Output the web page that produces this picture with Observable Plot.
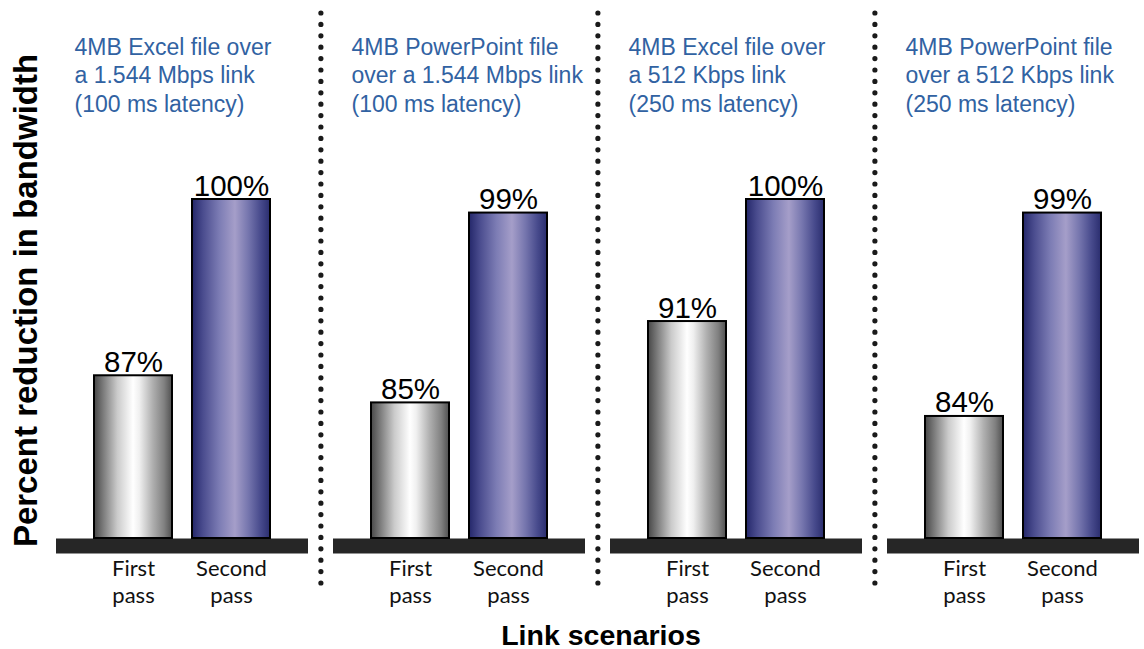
<!DOCTYPE html>
<html>
<head>
<meta charset="utf-8">
<script src="https://cdn.jsdelivr.net/npm/d3@7"></script>
<script src="https://cdn.jsdelivr.net/npm/@observablehq/plot@0.6"></script>
<style>
  html, body { margin: 0; padding: 0; background: #fff; }
  #chart { width: 1144px; }
  .caption {
    font: bold 28.5px "Liberation Sans", Arial, sans-serif;
    text-align: center;
    padding-left: 58px;
    margin-top: 10px;
    line-height: 26px;
    height: 26px;
    color: #000;
  }
</style>
</head>
<body>
<div id="chart"></div>
<script>
// Link scenarios (one panel each) and the two transfer passes
const scenarios = [
  "4MB Excel file over\na 1.544 Mbps link\n(100 ms latency)",
  "4MB PowerPoint file\nover a 1.544 Mbps link\n(100 ms latency)",
  "4MB Excel file over\na 512 Kbps link\n(250 ms latency)",
  "4MB PowerPoint file\nover a 512 Kbps link\n(250 ms latency)"
];
const passes = ["First pass", "Second pass"];

// Percent reduction in bandwidth per scenario
const firstPass = [87, 85, 91, 84];
const secondPass = [100, 99, 100, 99];

const yLabel = "Percent reduction in bandwidth";
const xLabel = "Link scenarios";
const yFloor = 75; // value axis starts here (bars rise from the base slab)

const rows = scenarios.flatMap((scenario, i) => [
  {scenario, pass: passes[0], value: firstPass[i]},
  {scenario, pass: passes[1], value: secondPass[i]}
]);

const textFont = '"Liberation Sans", Arial, sans-serif';
const isFirstOfPanel = d => d.pass === passes[0];

const svg = Plot.plot({
  width: 1144,
  height: 612,
  marginLeft: 55,
  marginRight: 5,
  marginTop: 199,
  marginBottom: 74,
  facet: {data: rows, x: "scenario"},
  fx: {domain: scenarios, axis: null, paddingInner: 0.0913, paddingOuter: 0},
  x: {domain: passes, axis: null, paddingInner: 0.2, paddingOuter: 0.373},
  y: {domain: [yFloor, 100], axis: null},
  marks: [
    // dark base slab under each pair of bars
    Plot.ruleY([yFloor], {stroke: "#262626", strokeWidth: 15, dy: 7.5}),
    // bars
    Plot.barY(rows, {
      filter: d => d.pass === passes[0],
      x: "pass", y1: () => yFloor, y2: "value",
      fill: "url(#gradFirst)", stroke: "#000", strokeWidth: 2
    }),
    Plot.barY(rows, {
      filter: d => d.pass === passes[1],
      x: "pass", y1: () => yFloor, y2: "value",
      fill: "url(#gradSecond)", stroke: "#000", strokeWidth: 2
    }),
    // value labels
    Plot.text(rows, {
      x: "pass", y: "value", text: d => `${d.value}%`,
      lineAnchor: "bottom", dy: -4,
      fontSize: 29.5, fontFamily: textFont, fill: "#000"
    }),
    // category labels under the slab
    Plot.text(rows, {
      x: "pass", text: d => d.pass.replace(" ", "\n"),
      frameAnchor: "bottom", lineAnchor: "top", dy: 19, lineHeight: 1.2,
      fontSize: 22, fontFamily: "Lato, 'Open Sans', sans-serif", fill: "#111"
    }),
    // scenario titles
    Plot.text(rows, {
      filter: isFirstOfPanel,
      text: "scenario",
      frameAnchor: "top-left", textAnchor: "start", lineAnchor: "top",
      dx: 18, dy: -165, lineHeight: 1.24,
      fontSize: 23, fontFamily: textFont, fill: "#3162a2"
    }),
    // dotted separators between panels
    Plot.ruleX(rows, {
      filter: d => isFirstOfPanel(d) && d.scenario !== scenarios[0],
      x: null, dx: -138.6,
      insetTop: -186, insetBottom: -50,
      stroke: "#1a1a1a", strokeWidth: 5.2,
      strokeLinecap: "round", strokeDasharray: "0 11.4"
    }),
    // value axis title
    Plot.text(rows, {
      filter: d => isFirstOfPanel(d) && d.scenario === scenarios[0],
      text: () => yLabel,
      frameAnchor: "left", textAnchor: "middle", rotate: -90, lineAnchor: "middle",
      dx: -30, dy: -68.5,
      fontSize: 33, fontWeight: "bold", fontFamily: textFont, fill: "#000"
    })
  ]
});

// cylinder-like horizontal gradients for the bars
const defs = d3.select(svg).insert("defs", ":first-child");
function addGradient(id, stops) {
  const g = defs.append("linearGradient")
    .attr("id", id).attr("x1", 0).attr("x2", 1).attr("y1", 0).attr("y2", 0);
  for (const [offset, color] of stops) {
    g.append("stop").attr("offset", offset).attr("stop-color", color);
  }
}
addGradient("gradFirst", [
  [0, "#474747"], [0.12, "#7c7c7c"], [0.3, "#cbcbcb"], [0.5, "#ffffff"],
  [0.58, "#f0f0f0"], [0.75, "#b0b0b0"], [0.9, "#808080"], [1, "#505050"]
]);
addGradient("gradSecond", [
  [0, "#24276a"], [0.14, "#4a4c8e"], [0.35, "#7c7cb4"], [0.55, "#a59ec9"],
  [0.72, "#7676ae"], [0.88, "#474a8c"], [1, "#2a2d6e"]
]);

document.getElementById("chart").append(svg);
const cap = document.createElement("div");
cap.className = "caption";
cap.textContent = xLabel;
document.getElementById("chart").append(cap);
</script>
</body>
</html>
